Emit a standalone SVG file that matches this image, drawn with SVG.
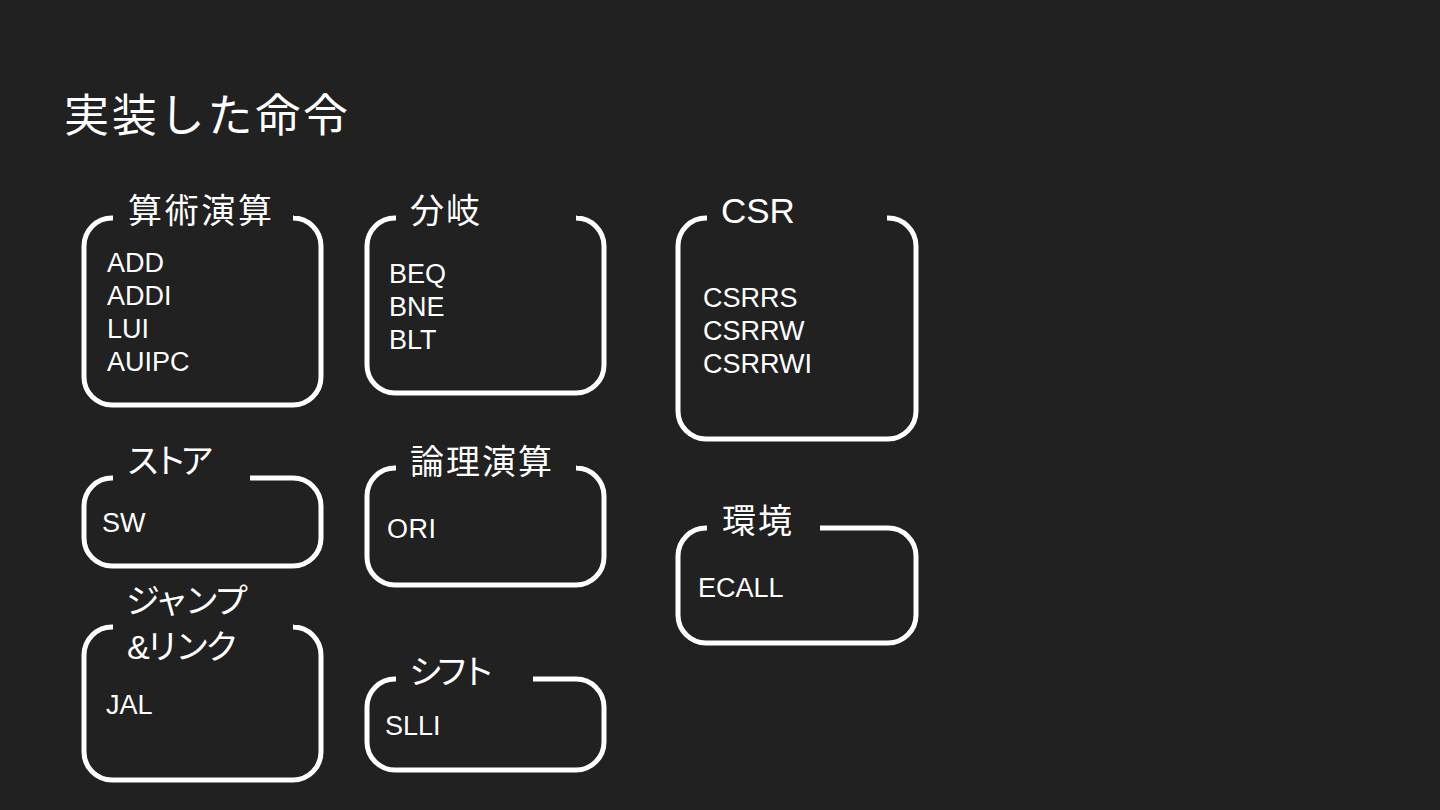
<svg xmlns="http://www.w3.org/2000/svg" width="1440" height="810" viewBox="0 0 1440 810">
<style>
.frame{fill:none;stroke:#ffffff;stroke-width:5;stroke-linecap:butt}
.title{font-family:"Liberation Sans","Noto Sans CJK JP",sans-serif;font-size:34px;fill:#ffffff}
.item{font-family:"Liberation Sans","Noto Sans CJK JP",sans-serif;font-size:27px;fill:#ffffff}
.head{font-family:"Noto Sans CJK JP",sans-serif;font-size:45px;fill:#ffffff}
</style>
<rect width="1440" height="810" fill="#212121"/>
<text class="head" x="64" y="132" textLength="284" lengthAdjust="spacing">実装した命令</text>
<g id="connectors"></g>
<g id="arith">
<path class="frame" d="M294 218 H293 A28 28 0 0 1 321 246 V377 A28 28 0 0 1 293 405 H112 A28 28 0 0 1 84 377 V246 A28 28 0 0 1 112 218 H113"/>
<text class="title" x="128" y="223" textLength="144" lengthAdjust="spacing">算術演算</text>
<text class="item" x="107" y="272">ADD</text>
<text class="item" x="107" y="305">ADDI</text>
<text class="item" x="107" y="338">LUI</text>
<text class="item" x="107" y="371">AUIPC</text>
</g>
<g id="store">
<path class="frame" d="M250 478 H293 A28 28 0 0 1 321 506 V538 A28 28 0 0 1 293 566 H112 A28 28 0 0 1 84 538 V506 A28 28 0 0 1 112 478 H113"/>
<text class="title" x="126" y="473" textLength="88" lengthAdjust="spacing">ストア</text>
<text class="item" x="102" y="532">SW</text>
</g>
<g id="jump">
<path class="frame" d="M294 627 H293 A28 28 0 0 1 321 655 V752 A28 28 0 0 1 293 780 H112 A28 28 0 0 1 84 752 V655 A28 28 0 0 1 112 627 H113"/>
<text class="title" x="126" y="613" textLength="122" lengthAdjust="spacing">ジャンプ</text>
<text class="title" x="127" y="659" textLength="112" lengthAdjust="spacing">&amp;リンク</text>
<text class="item" x="106" y="714">JAL</text>
</g>
<g id="branch">
<path class="frame" d="M577 218 H576 A28 28 0 0 1 604 246 V365 A28 28 0 0 1 576 393 H395 A28 28 0 0 1 367 365 V246 A28 28 0 0 1 395 218 H396"/>
<text class="title" x="410" y="223" textLength="70" lengthAdjust="spacing">分岐</text>
<text class="item" x="389" y="283">BEQ</text>
<text class="item" x="389" y="316">BNE</text>
<text class="item" x="389" y="349">BLT</text>
</g>
<g id="logic">
<path class="frame" d="M577 468 H576 A28 28 0 0 1 604 496 V557 A28 28 0 0 1 576 585 H395 A28 28 0 0 1 367 557 V496 A28 28 0 0 1 395 468 H396"/>
<text class="title" x="410" y="474" textLength="142" lengthAdjust="spacing">論理演算</text>
<text class="item" x="387" y="538" textLength="49" lengthAdjust="spacing">ORI</text>
</g>
<g id="shift">
<path class="frame" d="M533 679 H576 A28 28 0 0 1 604 707 V742 A28 28 0 0 1 576 770 H395 A28 28 0 0 1 367 742 V707 A28 28 0 0 1 395 679 H396"/>
<text class="title" x="409" y="684" textLength="86" lengthAdjust="spacing">シフト</text>
<text class="item" x="385" y="735">SLLI</text>
</g>
<g id="csr">
<path class="frame" d="M887 218 H888 A28 28 0 0 1 916 246 V411 A28 28 0 0 1 888 439 H706 A28 28 0 0 1 678 411 V246 A28 28 0 0 1 706 218 H707"/>
<text class="title" x="721" y="223" style="font-size:35px">CSR</text>
<text class="item" x="703" y="307">CSRRS</text>
<text class="item" x="703" y="340">CSRRW</text>
<text class="item" x="703" y="373">CSRRWI</text>
</g>
<g id="env">
<path class="frame" d="M820 528 H888 A28 28 0 0 1 916 556 V615 A28 28 0 0 1 888 643 H706 A28 28 0 0 1 678 615 V556 A28 28 0 0 1 706 528 H707"/>
<text class="title" x="722" y="533" textLength="70" lengthAdjust="spacing">環境</text>
<text class="item" x="698" y="597">ECALL</text>
</g>
</svg>
